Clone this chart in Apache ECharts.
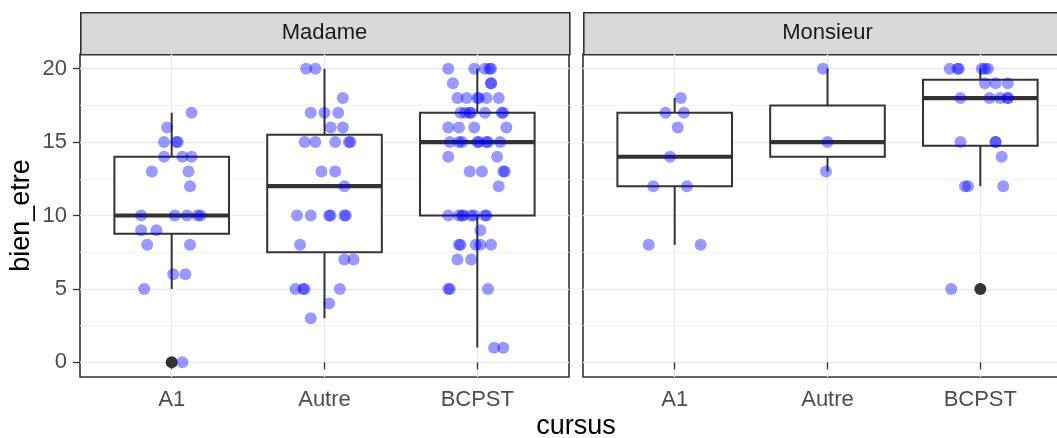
<!DOCTYPE html>
<html>
<head>
<meta charset="utf-8">
<title>bien_etre par cursus</title>
<script src="https://cdn.jsdelivr.net/npm/echarts@6/dist/echarts.min.js"></script>
<style>
  html, body { margin: 0; padding: 0; background: #fff; }
  #chart { width: 1057px; height: 438px; }
</style>
</head>
<body>
<div id="chart"></div>
<script>
// categories and facets
var categories = ['A1', 'Autre', 'BCPST'];
var panels = ['Madame', 'Monsieur'];
var yTicks = [0, 5, 10, 15, 20];
var yMinor = [2.5, 7.5, 12.5, 17.5];

// box stats: [low whisker, Q1, median, Q3, high whisker]
var boxMadame = [
  [5, 8.75, 10, 14, 17],
  [3, 7.5, 12, 15.5, 20],
  [1, 10, 15, 17, 20]
];
var boxMonsieur = [
  [8, 12, 14, 17, 18],
  [13, 14, 15, 17.5, 20],
  [12, 14.75, 18, 19.25, 20]
];
// outliers: [category index (1-based), value]
var outMadame = [[1, 0]];
var outMonsieur = [[3, 5]];

// jittered points: [x offset from category centre, bien_etre]
var madameA1 = [
  [0.13, 17], [-0.03, 16], [-0.05, 15], [0.03, 15], [0.04, 15],
  [-0.05, 14], [0.07, 14], [0.13, 14], [-0.13, 13], [0.11, 13], [0.12, 12],
  [-0.20, 10], [0.02, 10], [0.10, 10], [0.17, 10], [0.19, 10],
  [-0.20, 9], [-0.10, 9], [-0.16, 8], [0.12, 8], [0.01, 6], [0.09, 6],
  [-0.18, 5], [0.07, 0]
];
var madameAutre = [
  [-0.12, 20], [-0.06, 20], [0.12, 18], [-0.09, 17], [0, 17], [0.09, 17],
  [0.04, 16], [0.12, 16], [-0.13, 15], [-0.06, 15], [0.07, 15], [0.16, 15], [0.17, 15],
  [-0.02, 13], [0.07, 13], [0.13, 12],
  [-0.18, 10], [-0.09, 10], [0.03, 10], [0.04, 10], [0.13, 10], [0.14, 10],
  [-0.16, 8], [0.13, 7], [0.19, 7],
  [-0.19, 5], [-0.14, 5], [-0.13, 5], [0.10, 5], [0.03, 4], [-0.09, 3]
];
var madameBCPST = [
  [-0.19, 20], [-0.02, 20], [0.05, 20], [0.08, 20], [0.09, 20],
  [-0.16, 19], [0.09, 19], [0.09, 19],
  [-0.13, 18], [-0.07, 18], [0, 18], [0.01, 18], [0.06, 18], [0.14, 18],
  [-0.11, 17], [-0.08, 17], [-0.05, 17], [-0.04, 17], [0.05, 17], [0.16, 17], [0.17, 17],
  [-0.19, 16], [-0.12, 16], [-0.02, 16], [0.19, 16],
  [-0.18, 15], [-0.12, 15], [-0.10, 15], [0, 15], [0.01, 15], [0.06, 15], [0.07, 15], [0.15, 15],
  [-0.19, 14], [0.13, 14],
  [-0.05, 13], [0.03, 13], [0.17, 13], [0.18, 13], [0.14, 12],
  [-0.19, 10], [-0.12, 10], [-0.10, 10], [-0.09, 10], [-0.04, 10], [-0.02, 10], [0.05, 10], [0.06, 10],
  [0.02, 9],
  [-0.12, 8], [-0.11, 8], [-0.01, 8], [0.02, 8], [0.09, 8],
  [-0.13, 7], [-0.04, 7],
  [-0.19, 5], [-0.18, 5], [0.07, 5],
  [0.11, 1], [0.17, 1]
];
var monsieurA1 = [
  [0.04, 18], [-0.06, 17], [0.06, 17], [0.02, 16], [-0.03, 14],
  [-0.14, 12], [0.08, 12], [-0.17, 8], [0.17, 8]
];
var monsieurAutre = [[-0.03, 20], [0, 15], [-0.01, 13]];
var monsieurBCPST = [
  [-0.20, 20], [-0.15, 20], [-0.14, 20], [0.01, 20], [0.03, 20], [0.05, 20],
  [0.03, 19], [0.10, 19], [0.18, 19],
  [-0.13, 18], [0.06, 18], [0.13, 18], [0.18, 18], [0.18, 18],
  [-0.13, 15], [0.10, 15], [0.10, 15], [0.14, 14],
  [-0.10, 12], [-0.08, 12], [0.15, 12], [-0.19, 5]
];

var boxWidth = 0.75;
var lineCol = '#333333';

// points of one panel -> [x, y] on the value x axis
function jitter(groups) {
  var res = [];
  for (var i = 0; i < groups.length; i++) {
    for (var j = 0; j < groups[i].length; j++) {
      res.push([i + 1 + groups[i][j][0], groups[i][j][1]]);
    }
  }
  return res;
}
function boxData(stats) {
  return stats.map(function (s, i) { return [i + 1].concat(s); });
}

function renderBox(params, api) {
  var x = api.value(0);
  var lo = api.coord([x, api.value(1)]);
  var q1 = api.coord([x, api.value(2)]);
  var md = api.coord([x, api.value(3)]);
  var q3 = api.coord([x, api.value(4)]);
  var hi = api.coord([x, api.value(5)]);
  var half = api.size([boxWidth, 0])[0] / 2;
  var st = { stroke: lineCol, lineWidth: 2 };
  return {
    type: 'group',
    children: [
      { type: 'line', shape: { x1: hi[0], y1: hi[1], x2: q3[0], y2: q3[1] }, style: st },
      { type: 'line', shape: { x1: lo[0], y1: lo[1], x2: q1[0], y2: q1[1] }, style: st },
      { type: 'rect', shape: { x: q3[0] - half, y: q3[1], width: half * 2, height: q1[1] - q3[1] },
        style: { fill: '#ffffff', stroke: lineCol, lineWidth: 2 } },
      { type: 'line', shape: { x1: md[0] - half, y1: md[1], x2: md[0] + half, y2: md[1] },
        style: { stroke: lineCol, lineWidth: 4.2 } }
    ]
  };
}

var fontFam = '"Liberation Sans", Arial, sans-serif';
var gridLeft = [80, 583];
var panelW = 489;

function xAxisFor(i) {
  return {
    type: 'value', gridIndex: i, min: 0.4, max: 3.6,
    axisLine: { show: false },
    axisTick: { show: true, customValues: [1, 2, 3], length: 7, lineStyle: { color: lineCol, width: 1.3 } },
    axisLabel: {
      customValues: [1, 2, 3], color: '#4d4d4d', fontSize: 22, fontFamily: fontFam, margin: 12,
      formatter: function (v) { return categories[Math.round(v) - 1]; }
    },
    splitLine: { show: true, lineStyle: { color: '#ebebeb', width: 1.3 } }
  };
}
function yAxisFor(i) {
  return {
    type: 'value', gridIndex: i, min: -1, max: 21,
    name: i === 0 ? 'bien_etre' : '', nameLocation: 'middle', nameGap: 45,
    nameTextStyle: { color: '#000', fontSize: 27, fontFamily: fontFam },
    axisLine: { show: false },
    axisTick: { show: i === 0, customValues: yTicks, length: 7, lineStyle: { color: lineCol, width: 1.3 } },
    axisLabel: { show: i === 0, customValues: yTicks, color: '#4d4d4d', fontSize: 22, fontFamily: fontFam, margin: 13 },
    splitLine: { show: true, lineStyle: { color: '#ebebeb', width: 1.3 } }
  };
}
function yMinorFor(i) {
  return {
    type: 'value', gridIndex: i, min: -1, max: 21, position: 'left',
    axisLine: { show: false }, axisLabel: { show: false },
    axisTick: { show: false, customValues: yMinor },
    splitLine: { show: true, lineStyle: { color: '#f0f0f0', width: 0.8 } }
  };
}

function gridFor(i) {
  return {
    left: gridLeft[i], top: 54, width: panelW, height: 323,
    containLabel: false, outerBoundsMode: 'none',
    show: true, borderColor: lineCol, borderWidth: 1.6, backgroundColor: '#fff'
  };
}

var option = {
  backgroundColor: '#ffffff',
  animation: false,
  grid: [gridFor(0), gridFor(1)],
  xAxis: [xAxisFor(0), xAxisFor(1)],
  yAxis: [yAxisFor(0), yAxisFor(1), yMinorFor(0), yMinorFor(1)],
  graphic: [
    { type: 'rect', left: gridLeft[0], top: 12, shape: { width: panelW, height: 42 },
      style: { fill: '#d9d9d9', stroke: lineCol, lineWidth: 1.6 } },
    { type: 'rect', left: gridLeft[1], top: 12, shape: { width: panelW, height: 42 },
      style: { fill: '#d9d9d9', stroke: lineCol, lineWidth: 1.6 } },
    { type: 'text', x: gridLeft[0] + 2.1 / 4.2 * panelW, y: 33,
      style: { text: panels[0], fill: '#1a1a1a', font: '22px ' + fontFam, textAlign: 'center', textVerticalAlign: 'middle' } },
    { type: 'text', x: gridLeft[1] + 2.1 / 4.2 * panelW, y: 33,
      style: { text: panels[1], fill: '#1a1a1a', font: '22px ' + fontFam, textAlign: 'center', textVerticalAlign: 'middle' } },
    { type: 'text', x: 576, y: 427,
      style: { text: 'cursus', fill: '#000', font: '27px ' + fontFam, textAlign: 'center', textVerticalAlign: 'middle' } }
  ],
  series: [
    { type: 'custom', xAxisIndex: 0, yAxisIndex: 0, renderItem: renderBox, data: boxData(boxMadame), z: 3 },
    { type: 'custom', xAxisIndex: 1, yAxisIndex: 1, renderItem: renderBox, data: boxData(boxMonsieur), z: 3 },
    { type: 'scatter', xAxisIndex: 0, yAxisIndex: 0, data: outMadame, symbolSize: 12,
      itemStyle: { color: '#333333', opacity: 1 }, z: 4 },
    { type: 'scatter', xAxisIndex: 1, yAxisIndex: 1, data: outMonsieur, symbolSize: 12,
      itemStyle: { color: '#333333', opacity: 1 }, z: 4 },
    { type: 'scatter', xAxisIndex: 0, yAxisIndex: 0, data: jitter([madameA1, madameAutre, madameBCPST]),
      symbolSize: 12, itemStyle: { color: 'rgba(0,0,255,0.4)', opacity: 1 }, z: 5 },
    { type: 'scatter', xAxisIndex: 1, yAxisIndex: 1, data: jitter([monsieurA1, monsieurAutre, monsieurBCPST]),
      symbolSize: 12, itemStyle: { color: 'rgba(0,0,255,0.4)', opacity: 1 }, z: 5 }
  ]
};

var chart = echarts.init(document.getElementById('chart'), null, { renderer: 'canvas' });
chart.setOption(option);
</script>
</body>
</html>
